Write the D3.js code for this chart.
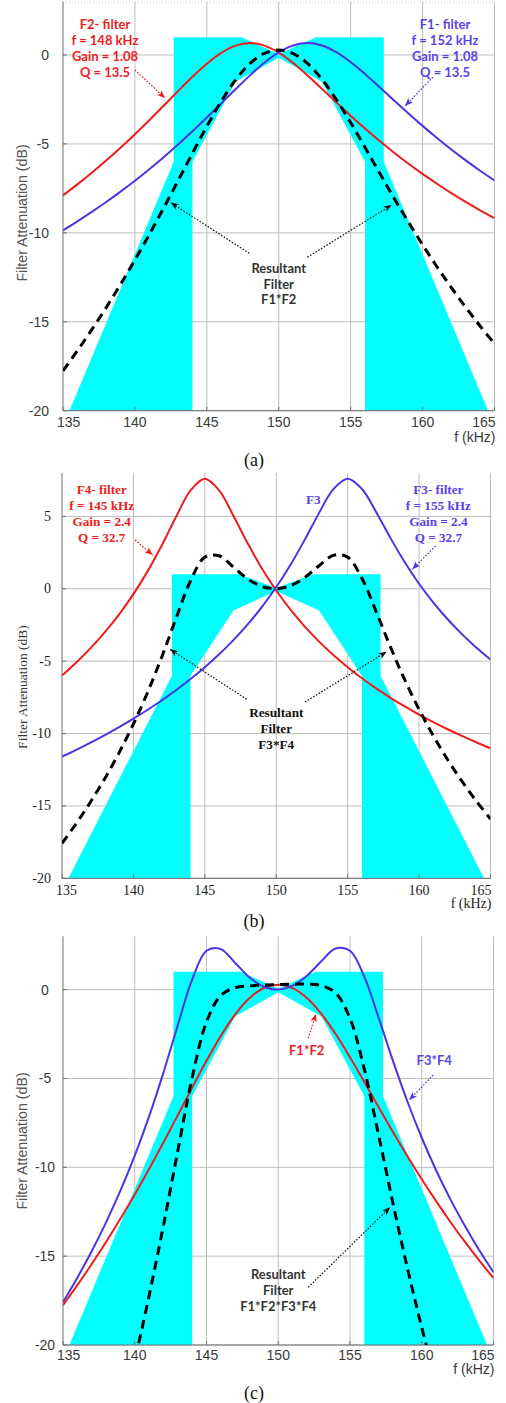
<!DOCTYPE html>
<html><head><meta charset="utf-8">
<script src="https://cdn.jsdelivr.net/npm/d3@7"></script>
<style>body{margin:0;background:#fff}svg{display:block}</style>
</head><body>
<svg id="chart" width="506" height="1403"></svg>
<script>
// ---------- DATA ----------
const freq = [135,136,137,138,139,140,141,142,143,144,145,146,147,148,149,150,151,152,153,154,155,156,157,158,159,160,161,162,163,164,165];
const F1 = [-9.864,-9.356,-8.824,-8.268,-7.684,-7.070,-6.425,-5.748,-5.036,-4.291,-3.517,-2.722,-1.922,-1.146,-0.437,0.146,0.533,0.669,0.535,0.159,-0.398,-1.069,-1.796,-2.540,-3.274,-3.985,-4.665,-5.312,-5.926,-6.506,-7.055];
const F2 = [-7.892,-7.273,-6.621,-5.934,-5.212,-4.455,-3.666,-2.852,-2.030,-1.228,-0.490,0.119,0.525,0.669,0.527,0.133,-0.450,-1.146,-1.897,-2.660,-3.411,-4.135,-4.826,-5.482,-6.101,-6.687,-7.241,-7.765,-8.261,-8.731,-9.178];
const F1F2 = [-17.756,-16.629,-15.445,-14.202,-12.896,-11.525,-10.091,-8.600,-7.066,-5.519,-4.007,-2.603,-1.397,-0.477,0.090,0.279,0.083,-0.477,-1.362,-2.501,-3.809,-5.204,-6.622,-8.022,-9.375,-10.672,-11.906,-13.077,-14.187,-15.237,-16.233];
const F3 = [-11.595,-11.121,-10.625,-10.103,-9.554,-8.972,-8.356,-7.698,-6.995,-6.237,-5.417,-4.524,-3.543,-2.457,-1.244,0.122,1.666,3.398,5.245,6.888,7.604,6.897,5.292,3.501,1.833,0.351,-0.953,-2.104,-3.130,-4.051,-4.886];
const F4 = [-5.990,-5.088,-4.096,-2.995,-1.762,-0.368,1.221,3.026,4.991,6.795,7.604,6.805,5.045,3.142,1.405,-0.117,-1.446,-2.614,-3.650,-4.579,-5.417,-6.182,-6.883,-7.529,-8.129,-8.688,-9.211,-9.703,-10.165,-10.603,-11.018];
const F3F4 = [-17.585,-16.209,-14.721,-13.098,-11.316,-9.340,-7.135,-4.672,-2.004,0.558,2.187,2.281,1.502,0.685,0.161,0.005,0.220,0.784,1.595,2.309,2.187,0.715,-1.591,-4.028,-6.296,-8.337,-10.164,-11.807,-13.295,-14.654,-15.904];
const F1F2F3F4 = [-35.341,-32.838,-30.166,-27.300,-24.212,-20.865,-17.226,-13.272,-9.070,-4.961,-1.820,-0.322,0.105,0.208,0.251,0.284,0.303,0.307,0.233,-0.192,-1.622,-4.489,-8.213,-12.050,-15.671,-19.009,-22.070,-24.884,-27.482,-29.891,-32.137];
// specification mask (cyan) polygon vertices
const maskF  = [135.45,142.7,142.7,147.4,150,152.6,157.3,157.3,164.55,156,156,153,150,147,144,144];
const maskDb = [-20,-6,1,1,0.05,1,1,-6,-20,-20,-6,-1.5,-0.15,-1.5,-6,-20];
const xTicks = [135,140,145,150,155,160,165];
const yTicksAC = [0,-5,-10,-15,-20];
const yTicksB = [5,0,-5,-10,-15,-20];

// ---------- STYLE ----------
const RED = "#f01c1c", BLUE = "#4d33e3", BLUET = "#5a42ee", CYAN = "#00ffff";
const SANS = "'Liberation Sans', Arial, sans-serif";
const SERIF = "'Liberation Serif', 'Times New Roman', serif";
const ANN = "Lato, 'Open Sans', sans-serif";

const panels = [
  { xr:[63,494.5], yd:[-20,3], yr:[410.7,1.65], yTicks:yTicksAC, font:SANS, annFont:ANN, annSize:13, tickSize:14,
    yTickX:49, yTickAnchor:"end", xTickY:422, xLabY:437, yLabY:213, caption:"(a)", capY:460, topDotted:true,
    series:[{v:F2,c:RED},{v:F1,c:BLUE},{v:F1F2,c:"#000",dash:true}],
    texts:[{f:137.92,db:1.73,c:RED,lines:["F2- filter","f = 148 kHz","Gain = 1.08","Q = 13.5"]},
           {f:161.56,db:1.73,c:BLUET,lines:["F1- filter","f = 152 kHz","Gain = 1.08","Q = 13.5"]},
           {f:150,db:-11.96,c:"#333",lines:["Resultant","Filter","F1*F2"]}],
    arrows:[{a:[140.0,-0.84],b:[142.09,-2.42],c:RED},{a:[160.72,-1.24],b:[158.78,-2.87],c:BLUE},
            {a:[147.95,-11.15],b:[142.49,-8.30],c:"#111"},{a:[151.99,-11.37],b:[157.85,-8.43],c:"#111"}],
    lh:15.8 },
  { xr:[62,490.5], yd:[-20,8], yr:[878.3,473], yTicks:yTicksB, font:SERIF, annFont:SERIF, annSize:13.2, tickSize:14,
    yTickX:51, yTickAnchor:"end", xTickY:890, xLabY:903, yLabY:687, caption:"(b)", capY:921, topDotted:false,
    series:[{v:F4,c:RED},{v:F3,c:BLUE},{v:F3F4,c:"#000",dash:true}],
    texts:[{f:137.78,db:6.83,c:RED,lines:["F4- filter","f = 145 kHz","Gain = 2.4","Q = 32.7"]},
           {f:152.6,db:6.18,c:BLUET,lines:["F3"]},
           {f:161.35,db:6.83,c:BLUET,lines:["F3- filter","f = 155 kHz","Gain = 2.4","Q = 32.7"]},
           {f:150,db:-8.56,c:"#111",lines:["Resultant","Filter","F3*F4"]}],
    arrows:[{a:[140.11,3.37],b:[141.35,2.34],c:RED},{a:[161.15,2.96],b:[159.53,1.35],c:BLUE},
            {a:[147.93,-7.63],b:[142.56,-4.18],c:"#111"},{a:[152.01,-7.82],b:[157.73,-4.35],c:"#111"}],
    lh:15.9 },
  { xr:[63,493.5], yd:[-20,3], yr:[1345,936.3], yTicks:yTicksAC, font:SANS, annFont:ANN, annSize:13, tickSize:14,
    yTickX:45, yTickAnchor:"middle", xTickY:1355, xLabY:1369, yLabY:1141, caption:"(c)", capY:1393, topDotted:false,
    series:[{v:F1F2,c:RED},{v:F3F4,c:BLUE},{v:F1F2F3F4,c:"#000",dash:true}],
    texts:[{f:151.98,db:-3.40,c:RED,lines:["F1*F2"]},
           {f:160.87,db:-3.96,c:BLUET,lines:["F3*F4"]},
           {f:150,db:-16.0,c:"#333",lines:["Resultant","Filter","F1*F2*F3*F4"]}],
    arrows:[{a:[152.09,-2.74],b:[152.63,-1.37],c:RED},{a:[160.80,-4.81],b:[159.13,-6.21],c:BLUE},
            {a:[152.09,-16.75],b:[157.79,-12.25],c:"#111"}],
    lh:15.8 }
];

const svg = d3.select("#chart");
const defs = svg.append("defs");
const markerFor = {};
[["r",RED],["b",BLUE],["k","#111"]].forEach(([k,c])=>{
  defs.append("marker").attr("id","ah"+k).attr("viewBox","0 0 10 8").attr("refX",10).attr("refY",4)
    .attr("markerWidth",8).attr("markerHeight",6.5).attr("markerUnits","userSpaceOnUse").attr("orient","auto")
    .append("path").attr("d","M0,0 L10,4 L0,8 L2.5,4 Z").attr("fill",c);
  markerFor[c]=k;
});

panels.forEach((p,i)=>{
  const x = d3.scaleLinear().domain([135,165]).range(p.xr);
  const y = d3.scaleLinear().domain(p.yd).range(p.yr);
  const g = svg.append("g");
  const X0=p.xr[0], X1=p.xr[1], Y0=p.yr[1], Y1=p.yr[0];
  const clipId="clip"+i;
  defs.append("clipPath").attr("id",clipId).append("rect")
    .attr("x",X0).attr("y",Y0).attr("width",X1-X0).attr("height",Y1-Y0);

  // grid
  g.selectAll(".vg").data(xTicks.slice(1)).join("line")
    .attr("x1",d=>x(d)).attr("x2",d=>x(d)).attr("y1",Y0).attr("y2",Y1)
    .attr("stroke","#bdbdbd").attr("stroke-width",1);
  g.selectAll(".hg").data(p.yTicks).join("line")
    .attr("x1",X0).attr("x2",X1).attr("y1",d=>y(d)).attr("y2",d=>y(d))
    .attr("stroke","#bdbdbd").attr("stroke-width",1);
  if(p.topDotted) g.append("line").attr("x1",X0).attr("x2",X1).attr("y1",Y0+0.5).attr("y2",Y0+0.5)
    .attr("stroke","#c8c8c8").attr("stroke-dasharray","1,2");

  // cyan mask
  const poly = maskF.map((f,k)=>[x(f),y(maskDb[k])]);
  g.append("path").attr("d","M"+poly.map(q=>q.join(",")).join("L")+"Z").attr("fill",CYAN).attr("clip-path",`url(#${clipId})`);

  // axes lines
  g.append("line").attr("x1",X0).attr("x2",X0).attr("y1",Y0).attr("y2",Y1).attr("stroke","#6e6e6e");
  g.append("line").attr("x1",X0).attr("x2",X1).attr("y1",Y1).attr("y2",Y1).attr("stroke","#6e6e6e");
  g.selectAll(".yt").data(p.yTicks).join("line").attr("x1",X0).attr("x2",X0+4).attr("y1",d=>y(d)).attr("y2",d=>y(d)).attr("stroke","#6e6e6e");
  g.selectAll(".xt").data(xTicks).join("line").attr("x1",d=>x(d)).attr("x2",d=>x(d)).attr("y1",Y1).attr("y2",Y1-4).attr("stroke","#6e6e6e");

  // curves
  const line = d3.line().x((d,k)=>x(freq[k])).y(d=>y(d)).curve(d3.curveCatmullRom.alpha(0.5));
  const cg = g.append("g").attr("clip-path",`url(#${clipId})`);
  p.series.forEach(s=>{
    cg.append("path").attr("d",line(s.v)).attr("fill","none").attr("stroke",s.c)
      .attr("stroke-width",s.dash?3:2).attr("stroke-dasharray",s.dash?"9,6":null)
      .attr("stroke-linejoin","round");
  });

  // tick labels
  const tc = i===1?"#222":"#3a3a3a";
  g.selectAll(".yl").data(p.yTicks).join("text").attr("x",p.yTickX).attr("y",d=>y(d))
    .attr("text-anchor",p.yTickAnchor).attr("dominant-baseline","central")
    .attr("font-family",p.font).attr("font-size",p.tickSize).attr("fill",tc).text(d=>d);
  g.selectAll(".xl").data(xTicks).join("text")
    .attr("x",(d,k)=>k===0?x(d)-6:(k===xTicks.length-1?x(d)+1:x(d)))
    .attr("text-anchor",(d,k)=>k===0?"start":(k===xTicks.length-1?"end":"middle"))
    .attr("y",p.xTickY).attr("dominant-baseline","central")
    .attr("font-family",p.font).attr("font-size",p.tickSize).attr("fill",tc).text(d=>d);
  g.append("text").attr("x",X1+1).attr("y",p.xLabY).attr("text-anchor","end").attr("dominant-baseline","central")
    .attr("font-family",p.font).attr("font-size",p.tickSize).attr("fill",tc).text("f (kHz)");
  g.append("text").attr("transform",`translate(22,${p.yLabY}) rotate(-90)`).attr("text-anchor","middle")
    .attr("dominant-baseline","central").attr("font-family",p.font).attr("font-size",i===1?13.5:14.2)
    .attr("fill",i===1?"#333":"#555").text("Filter Attenuation (dB)");

  // annotations
  p.texts.forEach(t=>{
    const tx = g.append("text").attr("x",x(t.f)).attr("y",y(t.db)).attr("text-anchor","middle")
      .attr("font-family",p.annFont).attr("font-weight","bold").attr("font-size",p.annSize).attr("fill",t.c);
    t.lines.forEach((l,k)=>tx.append("tspan").attr("x",x(t.f)).attr("y",y(t.db)+k*p.lh)
      .attr("dominant-baseline","central").text(l));
  });
  p.arrows.forEach(a=>{
    g.append("line").attr("x1",x(a.a[0])).attr("y1",y(a.a[1])).attr("x2",x(a.b[0])).attr("y2",y(a.b[1]))
      .attr("stroke",a.c).attr("stroke-width",1.2).attr("stroke-dasharray","1.6,1.6")
      .attr("marker-end",`url(#ah${markerFor[a.c]})`);
  });

  // caption
  svg.append("text").attr("x",254).attr("y",p.capY).attr("text-anchor","middle").attr("dominant-baseline","central")
    .attr("font-family",SERIF).attr("font-size",18).attr("fill","#111").text(p.caption);
});
</script>
</body></html>
